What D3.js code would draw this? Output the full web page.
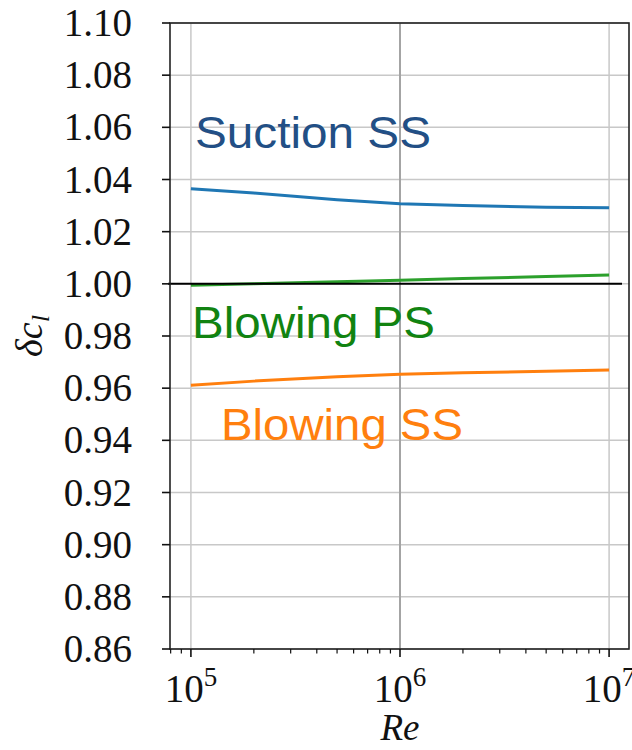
<!DOCTYPE html>
<html>
<head>
<meta charset="utf-8">
<script src="https://cdn.jsdelivr.net/npm/d3@7"></script>
<style>
  html, body { margin: 0; padding: 0; background: #fff; }
  svg { display: block; }
  .serif { font-family: "Liberation Serif", "Tinos", "Nimbus Roman", "Times New Roman", "Times", "FreeSerif", "Noto Serif", "DejaVu Serif", serif; }
  .sans { font-family: "Liberation Sans", Arial, Helvetica, sans-serif; }
</style>
</head>
<body>
<script>
// Reynolds numbers at which the lift change was evaluated
const reynolds = [1e5, 2e5, 5e5, 1e6, 2e6, 5e6, 1e7];
// Relative lift coefficient for each actuation case
const suctionSS = [1.0365, 1.0348, 1.0322, 1.0307, 1.0300, 1.0294, 1.0292];
const blowingPS = [0.9995, 1.0000, 1.0008, 1.0014, 1.0020, 1.0028, 1.0034];
const blowingSS = [0.9611, 0.9627, 0.9644, 0.9653, 0.9659, 0.9665, 0.9670];
const seriesNames = ["Suction SS", "Blowing PS", "Blowing SS"];
const yTicks = [0.86, 0.88, 0.90, 0.92, 0.94, 0.96, 0.98, 1.00, 1.02, 1.04, 1.06, 1.08, 1.10];
const xTicks = [1e5, 1e6, 1e7];
const xExponents = ["5", "6", "7"];
const referenceLevel = 1.00;

const W = 632, H = 750;
const svg = d3.select("body").append("svg").attr("width", W).attr("height", H);

const x = d3.scaleLog().domain([Math.pow(10, 4.9), Math.pow(10, 7.1)]).range([170, 630]);
const y = d3.scaleLinear().domain([0.86, 1.10]).range([649, 23]);

// grid
const grid = svg.append("g");
grid.selectAll("line.h").data(yTicks).join("line")
  .attr("x1", 170).attr("x2", 629)
  .attr("y1", d => y(d)).attr("y2", d => y(d))
  .attr("stroke", "#c8c8c8").attr("stroke-width", 1.5);
grid.selectAll("line.v").data(xTicks).join("line")
  .attr("x1", d => x(d)).attr("x2", d => x(d))
  .attr("y1", 23).attr("y2", 649)
  .attr("stroke", d => d === 1e6 ? "#a4a4a4" : "#c8c8c8")
  .attr("stroke-width", d => d === 1e6 ? 2 : 1.5);

// data lines
const line = d3.line().x((d, i) => x(reynolds[i])).y(d => y(d));
const series = [
  { name: seriesNames[0], values: suctionSS, color: "#1f77b4" },
  { name: seriesNames[1], values: blowingPS, color: "#2ca02c" },
  { name: seriesNames[2], values: blowingSS, color: "#ff7f0e" }
];
svg.append("g").selectAll("path").data(series).join("path")
  .attr("d", d => line(d.values))
  .attr("fill", "none")
  .attr("stroke", d => d.color)
  .attr("stroke-width", 3);

// reference level
svg.append("line")
  .attr("x1", 168).attr("x2", 622)
  .attr("y1", y(referenceLevel)).attr("y2", y(referenceLevel))
  .attr("stroke", "#000").attr("stroke-width", 2);

// frame
svg.append("rect")
  .attr("x", 170).attr("y", 23).attr("width", 459).attr("height", 626)
  .attr("fill", "none").attr("stroke", "#222").attr("stroke-width", 1.6);

// y axis ticks and labels
const yAxis = svg.append("g");
yAxis.selectAll("line").data(yTicks).join("line")
  .attr("x1", 162).attr("x2", 170)
  .attr("y1", d => y(d)).attr("y2", d => y(d))
  .attr("stroke", "#111").attr("stroke-width", 1.6);
yAxis.selectAll("text").data(yTicks).join("text")
  .attr("class", "serif")
  .attr("x", 132).attr("y", d => y(d) + 13)
  .attr("text-anchor", "end")
  .attr("font-size", 39).attr("fill", "#111")
  .text(d => d.toFixed(2));

// x axis ticks: major and log minor
const minor = [];
for (let e = 4; e <= 7; e++) {
  for (let m = 2; m <= 9; m++) {
    const v = m * Math.pow(10, e);
    if (v >= x.domain()[0] && v <= x.domain()[1]) minor.push(v);
  }
}
const xAxis = svg.append("g");
xAxis.selectAll("line.minor").data(minor).join("line")
  .attr("x1", d => x(d)).attr("x2", d => x(d))
  .attr("y1", 649).attr("y2", 653.5)
  .attr("stroke", "#111").attr("stroke-width", 1.2);
xAxis.selectAll("line.major").data(xTicks).join("line")
  .attr("x1", d => x(d)).attr("x2", d => x(d))
  .attr("y1", 649).attr("y2", 657)
  .attr("stroke", "#111").attr("stroke-width", 1.6);
const xl = xAxis.selectAll("text").data(xTicks).join("text")
  .attr("class", "serif")
  .attr("x", d => x(d)).attr("y", 702)
  .attr("text-anchor", "middle")
  .attr("font-size", 39).attr("fill", "#111");
xl.append("tspan").text("10");
xl.append("tspan").attr("dy", -16).attr("font-size", 27).text((d, i) => xExponents[i]);

// axis titles
svg.append("text")
  .attr("class", "serif")
  .attr("x", 400).attr("y", 740)
  .attr("text-anchor", "middle")
  .attr("font-style", "italic")
  .attr("font-size", 37).attr("fill", "#111")
  .text("Re");

const yl = svg.append("text")
  .attr("class", "serif")
  .attr("transform", "translate(42,336) rotate(-90)")
  .attr("text-anchor", "middle")
  .attr("font-style", "italic")
  .attr("font-size", 38).attr("fill", "#111");
yl.append("tspan").text("δc");
yl.append("tspan").attr("dy", 7).attr("font-size", 26).text("l");

// series annotations
const notes = [
  { text: seriesNames[0], x: 195, y: 148, color: "#224f85", len: 236 },
  { text: seriesNames[1], x: 192, y: 338, color: "#118311", len: 243 },
  { text: seriesNames[2], x: 221, y: 440, color: "#ff7f0e", len: 242 }
];
svg.append("g").selectAll("text").data(notes).join("text")
  .attr("class", "sans")
  .attr("x", d => d.x).attr("y", d => d.y)
  .attr("font-size", 45)
  .attr("fill", d => d.color)
  .attr("textLength", d => d.len).attr("lengthAdjust", "spacingAndGlyphs")
  .text(d => d.text);
</script>
</body>
</html>
